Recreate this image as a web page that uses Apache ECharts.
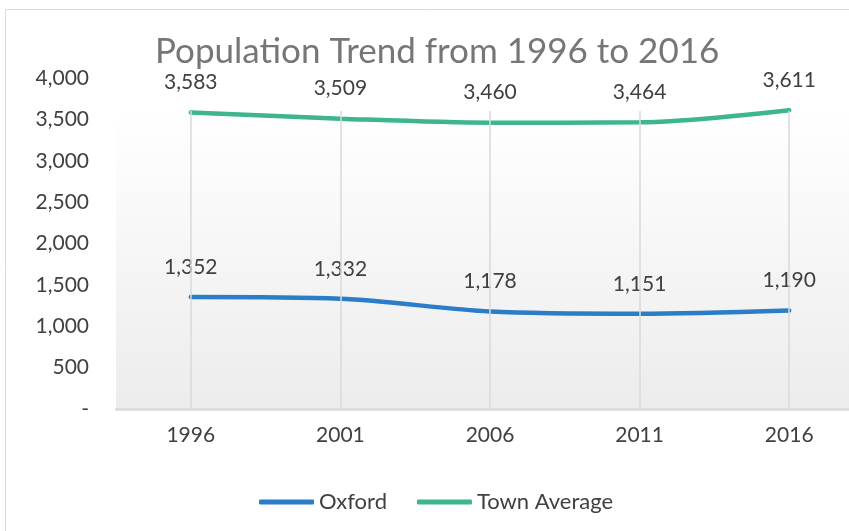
<!DOCTYPE html>
<html>
<head>
<meta charset="utf-8">
<script src="https://cdn.jsdelivr.net/npm/echarts@6/dist/echarts.min.js"></script>
<style>
  html, body { margin: 0; padding: 0; background: #fff; }
  #chart { width: 849px; height: 531px; }
</style>
</head>
<body>
<div id="chart"></div>
<script>
// data
var years = ['1996', '2001', '2006', '2011', '2016'];
var oxford = [1352, 1332, 1178, 1151, 1190];
var townAverage = [3583, 3509, 3460, 3464, 3611];

var FONT = 'Lato';
var textColor = '#404040';

function fmt(v) {
  if (v === 0) return '-';
  return v.toLocaleString('en-US');
}

function valueLabel() {
  return {
    show: true,
    position: 'top',
    distance: 19,
    color: textColor,
    fontSize: 21,
    fontFamily: FONT,
    formatter: function (p) { return fmt(p.value); }
  };
}

var chart = echarts.init(document.getElementById('chart'));

chart.setOption({
  backgroundColor: '#fff',
  textStyle: { fontFamily: FONT },
  graphic: [
    {
      type: 'rect',
      shape: { x: 5.5, y: 9.5, width: 900, height: 600 },
      style: { fill: 'none', stroke: '#d9d9d9', lineWidth: 1 },
      silent: true,
      z: -1
    }
  ],
  title: {
    text: 'Population Trend from 1996 to 2016',
    left: 150,
    top: 29,
    textStyle: { color: '#767676', fontSize: 35, fontWeight: 'normal', fontFamily: FONT }
  },
  legend: {
    top: 486,
    left: 254,
    itemWidth: 55,
    itemHeight: 5,
    itemGap: 30,
    icon: 'roundRect',
    textStyle: { color: textColor, fontSize: 22, fontFamily: FONT },
    data: ['Oxford', 'Town Average']
  },
  grid: {
    left: 116,
    width: 748,
    top: 78,
    bottom: 122,
    outerBoundsMode: 'none',
    show: true,
    borderWidth: 0,
    backgroundColor: new echarts.graphic.LinearGradient(0, 0, 0, 1, [
      { offset: 0, color: '#ffffff' },
      { offset: 0.1, color: '#ffffff' },
      { offset: 1, color: '#ececec' }
    ])
  },
  xAxis: {
    type: 'category',
    data: years,
    boundaryGap: true,
    axisLine: { lineStyle: { color: '#d9d9d9', width: 2.5 } },
    axisTick: { show: false },
    axisLabel: { color: textColor, fontSize: 21, margin: 16, fontFamily: FONT },
    splitLine: { show: false }
  },
  yAxis: {
    type: 'value',
    min: 0,
    max: 4000,
    interval: 500,
    axisLine: { show: false },
    axisTick: { show: false },
    splitLine: { show: false },
    axisLabel: {
      color: textColor,
      fontSize: 21,
      margin: 27,
      fontFamily: FONT,
      formatter: fmt
    }
  },
  series: [
    {
      name: 'Oxford',
      type: 'line',
      data: oxford,
      smooth: 0.3,
      symbol: 'circle',
      symbolSize: 1,
      showSymbol: true,
      lineStyle: { width: 4.5, color: '#2a7dc6', cap: 'round' },
      itemStyle: { color: '#2a7dc6' },
      label: valueLabel(),
      markLine: {
        silent: true,
        symbol: 'none',
        label: { show: false },
        lineStyle: {
          type: 'solid',
          width: 1.5,
          color: new echarts.graphic.LinearGradient(0, 0, 0, 1, [
            { offset: 0, color: 'rgba(217,217,217,0)' },
            { offset: 0.105, color: 'rgba(217,217,217,0)' },
            { offset: 0.106, color: '#d9d9d9' },
            { offset: 1, color: '#d9d9d9' }
          ])
        },
        data: years.map(function (y) { return { xAxis: y }; })
      },
      z: 3
    },
    {
      name: 'Town Average',
      type: 'line',
      data: townAverage,
      smooth: 0.3,
      symbol: 'circle',
      symbolSize: 1,
      showSymbol: true,
      lineStyle: { width: 4.5, color: '#3db58e', cap: 'round' },
      itemStyle: { color: '#3db58e' },
      label: valueLabel(),
      z: 3
    }
  ]
});
</script>
</body>
</html>
